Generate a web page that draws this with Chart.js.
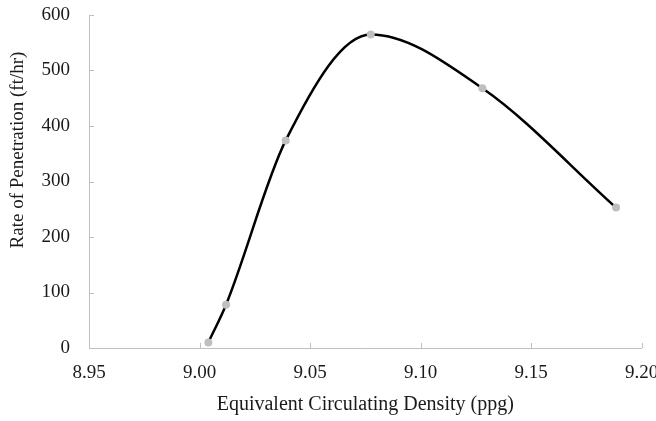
<!DOCTYPE html>
<html lang="en">

<head>
    <meta charset="UTF-8">
    <title>Rate of Penetration vs ECD</title>
    <script src="https://cdn.jsdelivr.net/npm/chart.js"></script>
    <style>
        html, body {
            margin: 0;
            padding: 0;
            background: #fff;
        }

        #chart-container {
            width: 656px;
            height: 421px;
        }
    </style>
</head>

<body>
    <div id="chart-container">
        <canvas id="ropChart"></canvas>
    </div>

    <script>
        // data
        const ecd = [9.004, 9.012, 9.039, 9.0775, 9.128, 9.1885];
        const rop = [10, 78, 374, 565, 468, 253];

        const xTitle = 'Equivalent Circulating Density (ppg)';
        const yTitle = 'Rate of Penetration (ft/hr)';

        const axisColor = '#bfbfbf';
        const textColor = '#1a1a1a';
        const serif = "'Liberation Serif', 'Times New Roman', serif";

        // Excel style: tick marks pointing into the plot area, y title drawn by hand
        const insideTicks = {
            id: 'insideTicks',
            afterDraw(chart) {
                const ctx = chart.ctx;
                const x = chart.scales.x;
                const y = chart.scales.y;
                const area = chart.chartArea;
                ctx.save();
                ctx.strokeStyle = axisColor;
                ctx.lineWidth = 1;
                ctx.beginPath();
                x.ticks.forEach(t => {
                    const px = Math.round(x.getPixelForValue(t.value)) + 0.5;
                    if (px <= area.left + 1) return;
                    ctx.moveTo(px, area.bottom);
                    ctx.lineTo(px, area.bottom - 5);
                });
                y.ticks.forEach(t => {
                    const py = Math.round(y.getPixelForValue(t.value)) + 0.5;
                    if (py >= area.bottom - 1) return;
                    ctx.moveTo(area.left, py);
                    ctx.lineTo(area.left + 5, py);
                });
                ctx.stroke();

                // y axis title
                ctx.translate(18, 150);
                ctx.rotate(-Math.PI / 2);
                ctx.fillStyle = textColor;
                ctx.font = '19px ' + serif;
                ctx.textAlign = 'center';
                ctx.textBaseline = 'middle';
                ctx.fillText(yTitle, 0, 0);
                ctx.restore();
            }
        };

        const points = ecd.map((v, i) => ({ x: v, y: rop[i] }));

        new Chart(document.getElementById('ropChart'), {
            type: 'scatter',
            data: {
                datasets: [{
                    data: points,
                    showLine: true,
                    borderColor: '#000',
                    borderWidth: 2.5,
                    cubicInterpolationMode: 'monotone',
                    pointRadius: 4,
                    pointBackgroundColor: axisColor,
                    pointBorderColor: axisColor,
                    pointBorderWidth: 0,
                }]
            },
            options: {
                responsive: true,
                maintainAspectRatio: false,
                animation: false,
                layout: {
                    padding: { top: 15, right: 14.5, left: 0, bottom: 0 }
                },
                plugins: {
                    legend: { display: false },
                    tooltip: { enabled: false }
                },
                scales: {
                    x: {
                        type: 'linear',
                        min: 8.95,
                        max: 9.20,
                        grid: { display: false },
                        border: { display: true, color: axisColor, width: 1 },
                        ticks: {
                            stepSize: 0.05,
                            padding: 6,
                            color: textColor,
                            font: { family: serif, size: 19 },
                            maxRotation: 0,
                            callback: v => v.toFixed(2)
                        },
                        title: {
                            display: true,
                            text: xTitle,
                            color: textColor,
                            font: { family: serif, size: 20 },
                            padding: { top: 11 }
                        },
                        afterFit(scale) {
                            scale.height = 73;
                            scale.paddingLeft = 0;
                            scale.paddingRight = 0;
                        }
                    },
                    y: {
                        min: 0,
                        max: 600,
                        grid: { display: false },
                        border: { display: true, color: axisColor, width: 1 },
                        ticks: {
                            stepSize: 100,
                            padding: 11,
                            color: textColor,
                            font: { family: serif, size: 19 }
                        },
                        afterFit(scale) {
                            scale.width = 89;
                            scale.paddingTop = 0;
                            scale.paddingBottom = 0;
                        }
                    }
                }
            },
            plugins: [insideTicks]
        });
    </script>
</body>

</html>
